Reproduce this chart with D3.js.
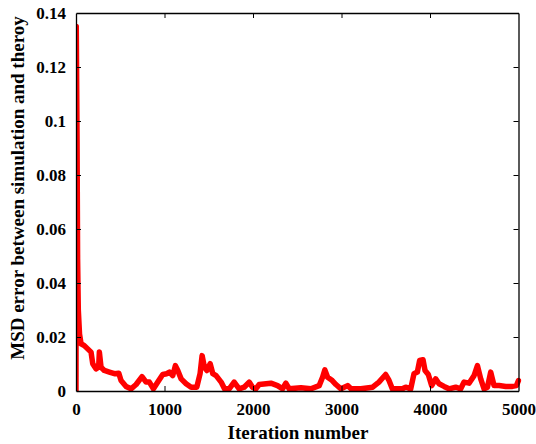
<!DOCTYPE html>
<html>
<head>
<meta charset="utf-8">
<script src="https://cdn.jsdelivr.net/npm/d3@7"></script>
<style>
  html, body { margin: 0; padding: 0; background: #fff; }
  svg { display: block; }
  text { font-family: "Liberation Serif", "Times New Roman", serif; font-weight: bold; fill: #000; }
</style>
</head>
<body>
<svg id="chart" width="536" height="444"></svg>
<script>
// ---- data ----
const iterations = [0, 3, 12, 18, 26, 40, 57, 94, 132, 170, 189, 226, 256, 264, 283, 320, 377, 434, 483, 509, 566, 622, 679, 746, 792, 829, 875, 924, 980, 1025, 1056, 1093, 1123, 1150, 1188, 1244, 1301, 1365, 1402, 1425, 1451, 1478, 1516, 1546, 1583, 1640, 1678, 1731, 1787, 1844, 1900, 1957, 1994, 2032, 2070, 2202, 2277, 2334, 2371, 2409, 2541, 2654, 2748, 2786, 2812, 2843, 2888, 2937, 2994, 3069, 3107, 3220, 3352, 3423, 3499, 3537, 3574, 3687, 3725, 3782, 3819, 3857, 3883, 3921, 3944, 3981, 4019, 4064, 4102, 4159, 4215, 4290, 4347, 4385, 4441, 4498, 4536, 4573, 4611, 4649, 4686, 4724, 4781, 4856, 4931, 4977, 5000];
const msdError = [0, 0.135, 0.092, 0.049, 0.030, 0.021, 0.0175, 0.0168, 0.0156, 0.0144, 0.0101, 0.0082, 0.0088, 0.0144, 0.0088, 0.0076, 0.0070, 0.0064, 0.0066, 0.0039, 0.0017, 0.0008, 0.0024, 0.0053, 0.0033, 0.0033, 0.0008, 0.0033, 0.0061, 0.0064, 0.0070, 0.0057, 0.0094, 0.0076, 0.0045, 0.0027, 0.0014, 0.0014, 0.0064, 0.0131, 0.0088, 0.0076, 0.0101, 0.0064, 0.0057, 0.0033, 0.0008, 0.0008, 0.0033, 0.0008, 0.0014, 0.0033, 0.0014, 0.0008, 0.0024, 0.0029, 0.0020, 0.0008, 0.0029, 0.0008, 0.0012, 0.0008, 0.0020, 0.0051, 0.0078, 0.0051, 0.0041, 0.0024, 0.0008, 0.0020, 0.0008, 0.0008, 0.0014, 0.0033, 0.0061, 0.0039, 0.0008, 0.0008, 0.0014, 0.0008, 0.0064, 0.0070, 0.0113, 0.0116, 0.0076, 0.0061, 0.0020, 0.0045, 0.0027, 0.0017, 0.0008, 0.0014, 0.0008, 0.0033, 0.0029, 0.0057, 0.0094, 0.0045, 0.0008, 0.0014, 0.0070, 0.0020, 0.0020, 0.0017, 0.0017, 0.0020, 0.0039];
const xTicks = [0, 1000, 2000, 3000, 4000, 5000];
const yTicks = [0, 0.02, 0.04, 0.06, 0.08, 0.1, 0.12, 0.14];
const yTickLabels = ["0", "0.02", "0.04", "0.06", "0.08", "0.1", "0.12", "0.14"];
const xTitle = "Iteration number";
const yTitle = "MSD error between simulation and theroy";

// ---- layout ----
const mLeft = 76, mRight = 518.5, mTop = 13, mBottom = 391;
const svg = d3.select("#chart");

const x = d3.scaleLinear().domain([0, 5000]).range([mLeft, mRight]);
const y = d3.scaleLinear().domain([0, 0.14]).range([mBottom, mTop]);

svg.append("defs").append("clipPath").attr("id", "plotclip")
  .append("rect").attr("x", mLeft).attr("y", mTop - 5).attr("width", mRight - mLeft + 3).attr("height", mBottom - mTop + 5);

// data line
const line = d3.line().x((d, i) => x(iterations[i])).y(d => y(d));
svg.append("path")
  .datum(msdError)
  .attr("clip-path", "url(#plotclip)")
  .attr("fill", "none")
  .attr("stroke", "#ff0000")
  .attr("stroke-width", 5.5)
  .attr("stroke-linejoin", "round")
  .attr("stroke-linecap", "round")
  .attr("d", line);

// axes (ticks inward, box)
const tickLen = 5;
const fmtY = d => yTickLabels[yTicks.indexOf(d)];

const xBottom = svg.append("g").attr("transform", `translate(0,${mBottom})`)
  .call(d3.axisBottom(x).tickValues(xTicks).tickSizeInner(-tickLen).tickSizeOuter(0).tickPadding(12).tickFormat(d3.format("d")));
const xTopAxis = svg.append("g").attr("transform", `translate(0,${mTop})`)
  .call(d3.axisTop(x).tickValues(xTicks).tickSizeInner(-tickLen).tickSizeOuter(0).tickFormat(""));
const yLeft = svg.append("g").attr("transform", `translate(${mLeft},0)`)
  .call(d3.axisLeft(y).tickValues(yTicks).tickSizeInner(-tickLen).tickSizeOuter(0).tickPadding(10).tickFormat(fmtY));
const yRight = svg.append("g").attr("transform", `translate(${mRight},0)`)
  .call(d3.axisRight(y).tickValues(yTicks).tickSizeInner(-tickLen).tickSizeOuter(0).tickFormat(""));

[xBottom, xTopAxis, yLeft, yRight].forEach(g => {
  g.selectAll(".domain").attr("stroke", "#000").attr("stroke-width", 1.3);
  g.selectAll(".tick line").attr("stroke", "#000").attr("stroke-width", 1);
  g.selectAll(".tick text").attr("font-family", "'Liberation Serif', 'Times New Roman', serif")
    .attr("font-weight", "bold").attr("font-size", 17).attr("fill", "#000");
});

[xTopAxis, xBottom].forEach(g => g.selectAll(".tick line").filter(d => d === 0 || d === 5000).remove());
[yLeft, yRight].forEach(g => g.selectAll(".tick line").filter(d => d === 0 || d === 0.14).remove());

// titles
svg.append("text")
  .attr("x", 298).attr("y", 439)
  .attr("text-anchor", "middle")
  .attr("font-size", 19)
  .text(xTitle);

svg.append("text")
  .attr("transform", "translate(24,188) rotate(-90)")
  .attr("text-anchor", "middle")
  .attr("font-size", 19)
  .text(yTitle);
</script>
</body>
</html>
